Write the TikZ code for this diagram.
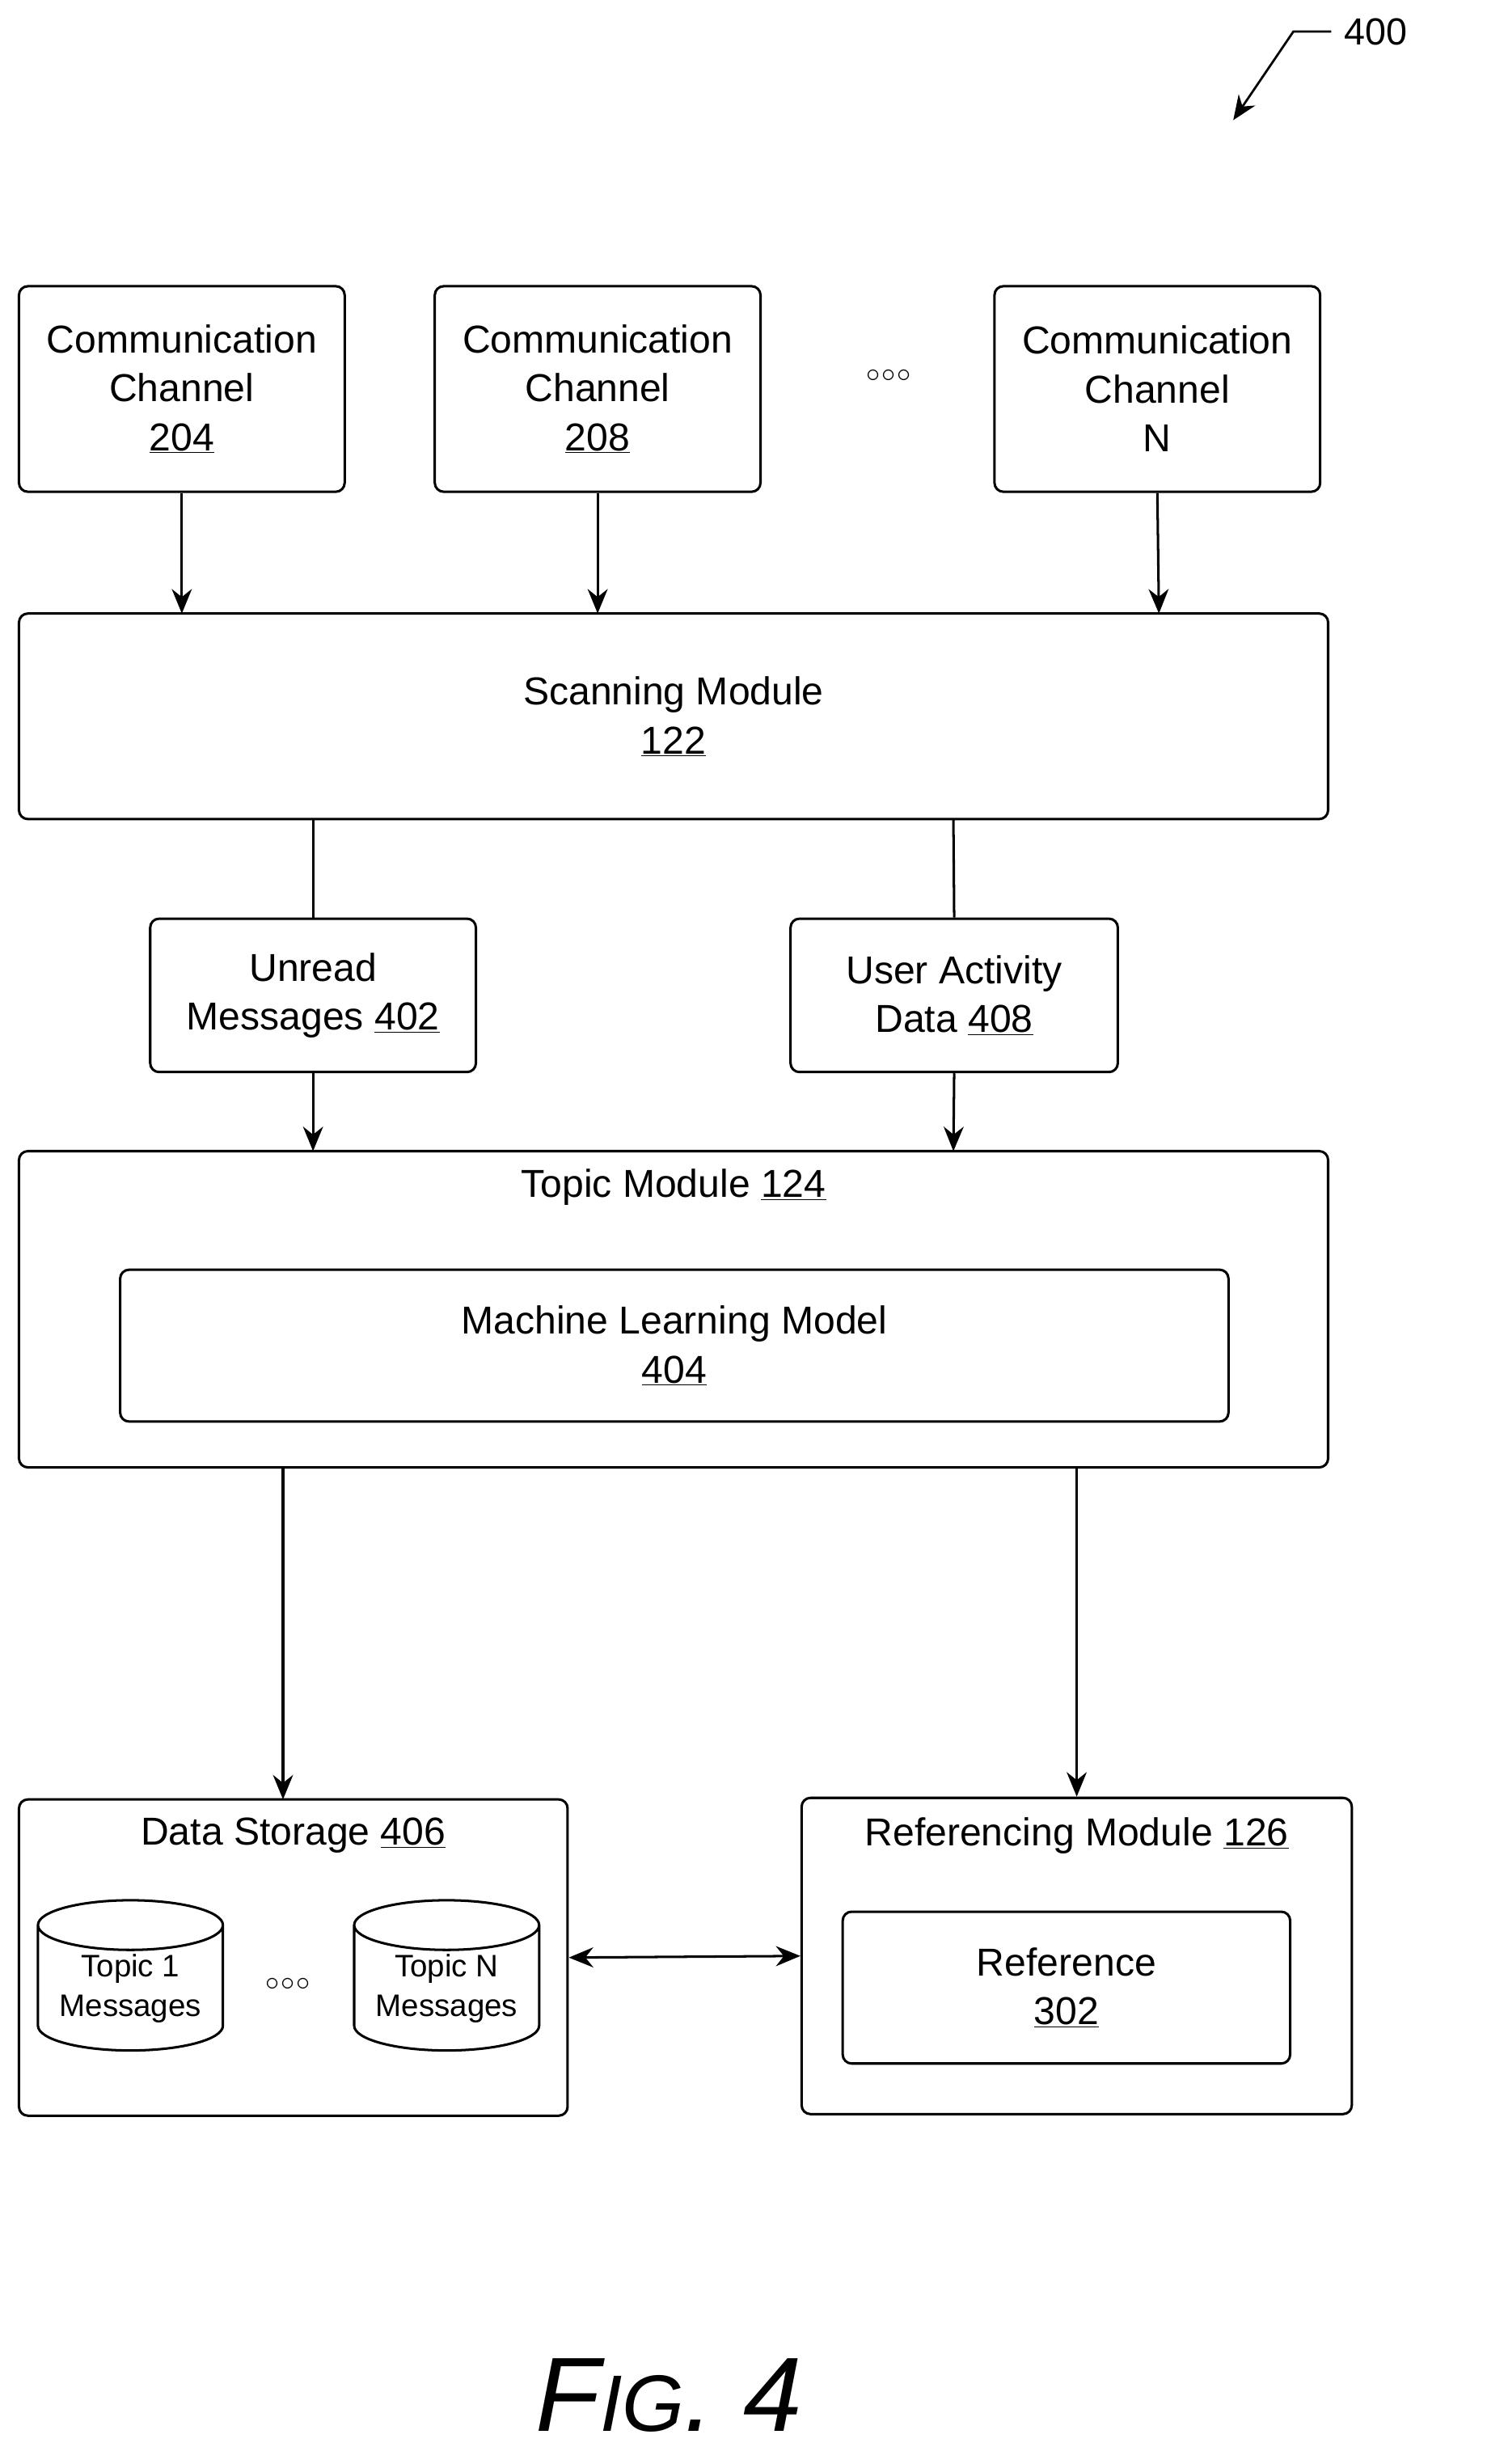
\documentclass[tikz,border=0pt]{standalone}
\usepackage{fontspec}
\setmainfont{Liberation Sans}
\usetikzlibrary{shapes.geometric,arrows.meta}
\begin{document}
\begin{tikzpicture}[x=0.05cm,y=-0.05cm,
  box/.style={draw,line width=2.2pt,rounded corners=8pt,align=center,inner sep=0pt,font=\fontsize{35}{44}\selectfont},
  arr/.style={line width=2.2pt,-{Stealth[length=22pt,width=18pt]}},
  ln/.style={line width=2.2pt},
  cyl/.style={draw,line width=2.2pt,cylinder,shape border rotate=90,aspect=0.35,minimum width=117*0.05cm,minimum height=95*0.05cm,align=center,inner sep=0pt,font=\fontsize{28}{36}\selectfont}]
\useasboundingbox (0,0) rectangle (940,1558.3);
\node[box,minimum width=206*0.05cm,minimum height=130*0.05cm] (c1) at (115,246) {Communication\\Channel\\\underline{204}};
\node[box,minimum width=206*0.05cm,minimum height=130*0.05cm] (c2) at (378,246) {Communication\\Channel\\\underline{208}};
\node[box,minimum width=206*0.05cm,minimum height=130*0.05cm] (cn) at (732,246) {Communication\\Channel\\N};
\node[font=\fontsize{30}{30}\selectfont] (d1) at (562,238) {$\circ\!\circ\!\circ$};
\node[box,minimum width=828*0.05cm,minimum height=130*0.05cm] (scan) at (426,453) {Scanning Module\\\underline{122}};
\node[box,minimum width=206*0.05cm,minimum height=97*0.05cm] (un) at (198,629.5) {Unread\\Messages \underline{402}};
\node[box,minimum width=207*0.05cm,minimum height=97*0.05cm] (ua) at (603.5,629.5) {User Activity\\Data \underline{408}};
\node[box,minimum width=828*0.05cm,minimum height=200*0.05cm] (topic) at (426,828) {};
\node[font=\fontsize{35}{44}\selectfont] (tt) at (426,751) {Topic Module \underline{124}};
\node[box,minimum width=701*0.05cm,minimum height=96*0.05cm] (ml) at (426.5,851) {Machine Learning Model\\\underline{404}};
\node[box,minimum width=347*0.05cm,minimum height=200*0.05cm] (ds) at (185.5,1238) {};
\node[font=\fontsize{35}{44}\selectfont] (dst) at (185.5,1161) {Data Storage \underline{406}};
\node[cyl] (t1) at (82.5,1257.5) {Topic 1\\Messages};
\node[cyl] (tn) at (282.5,1257.5) {Topic N\\Messages};
\node[font=\fontsize{30}{30}\selectfont] (d2) at (182,1255) {$\circ\!\circ\!\circ$};
\node[box,minimum width=348*0.05cm,minimum height=200*0.05cm] (rm) at (681,1237) {};
\node[font=\fontsize{35}{44}\selectfont] (rmt) at (681,1161) {Referencing Module \underline{126}};
\node[box,minimum width=283*0.05cm,minimum height=96*0.05cm] (ref) at (674.5,1257) {Reference\\\underline{302}};
\draw[arr] (c1.south) -- (115,388);
\draw[arr] (c2.south) -- (378,388);
\draw[arr] (cn.south) -- (733,388);
\draw[ln] (198,518) -- (un.north);
\draw[ln] (603,518) -- (ua.north);
\draw[arr] (un.south) -- (198,728);
\draw[arr] (ua.south) -- (603,728);
\draw[arr] (179,928) -- (179,1138);
\draw[arr] (681,928) -- (rm.north);
\draw[line width=2.2pt,{Stealth[length=22pt,width=18pt]}-{Stealth[length=22pt,width=18pt]}] (ds.east) -- (rm.west);
\node[font=\fontsize{34}{34}\selectfont] (n400) at (870,20) {400};
\coordinate (a0) at (842,20);
\draw[line width=2pt,-{Stealth[length=22pt,width=18pt]}] (a0) -- (818,20) -- (780,76);
\node[font=\fontsize{95}{95}\selectfont\itshape] (fig) at (423,1515) {F{\fontsize{72}{72}\selectfont IG}. 4};
\end{tikzpicture}
\end{document}
